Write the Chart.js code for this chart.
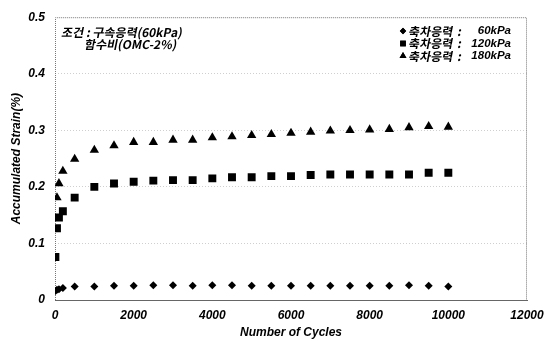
<!DOCTYPE html>
<html>
<head>
<meta charset="utf-8">
<script src="https://cdn.jsdelivr.net/npm/chart.js@4/dist/chart.umd.min.js"></script>
<style>
  html, body { margin: 0; background: #fff; }
</style>
</head>
<body>
<canvas id="chart" width="554" height="341"></canvas>
<script>
// data: cycles vs accumulated strain (%)
const cycles60 = [10, 50, 100, 200, 500, 1000, 1500, 2000, 2500, 3000, 3500, 4000, 4500, 5000, 5500, 6000, 6500, 7000, 7500, 8000, 8500, 9000, 9500, 10000];
const strain60 = [0.016, 0.018, 0.019, 0.021, 0.024, 0.024, 0.025, 0.025, 0.026, 0.026, 0.025, 0.026, 0.026, 0.025, 0.025, 0.025, 0.025, 0.025, 0.025, 0.025, 0.025, 0.026, 0.025, 0.024];

const cycles120 = [10, 50, 100, 200, 500, 1000, 1500, 2000, 2500, 3000, 3500, 4000, 4500, 5000, 5500, 6000, 6500, 7000, 7500, 8000, 8500, 9000, 9500, 10000];
const strain120 = [0.076, 0.127, 0.146, 0.157, 0.181, 0.200, 0.206, 0.209, 0.211, 0.212, 0.212, 0.215, 0.217, 0.217, 0.219, 0.219, 0.221, 0.222, 0.222, 0.222, 0.222, 0.222, 0.225, 0.225];

const cycles180 = [50, 100, 200, 500, 1000, 1500, 2000, 2500, 3000, 3500, 4000, 4500, 5000, 5500, 6000, 6500, 7000, 7500, 8000, 8500, 9000, 9500, 10000];
const strain180 = [0.181, 0.206, 0.228, 0.249, 0.265, 0.273, 0.279, 0.279, 0.283, 0.283, 0.287, 0.289, 0.291, 0.293, 0.295, 0.297, 0.299, 0.300, 0.301, 0.302, 0.305, 0.307, 0.306];

const xTicks = ['0', '2000', '4000', '6000', '8000', '10000', '12000'];
const yTicks = ['0', '0.1', '0.2', '0.3', '0.4', '0.5'];

const seriesNames = ['60kPa', '120kPa', '180kPa'];
const seriesShapes = ['rectRot', 'rect', 'triangle'];
const seriesRadius = [4, 5.6, 5.4];
const noteLines = ['조건 : 구속응력(60kPa)', '함수비(OMC-2%)'];

const FONT = "'Liberation Sans', Arial, sans-serif";
const KFONT = "'Noto Sans CJK KR', sans-serif";

const toPoints = (xs, ys) => xs.map((x, i) => ({ x, y: ys[i] }));

const datasets = [
  toPoints(cycles60, strain60),
  toPoints(cycles120, strain120),
  toPoints(cycles180, strain180)
].map((data, i) => ({
  label: seriesNames[i],
  data,
  pointStyle: seriesShapes[i],
  pointRadius: seriesRadius[i],
  pointBackgroundColor: '#000',
  pointBorderColor: '#000',
  pointBorderWidth: 0,
  showLine: false
}));

// slanted text (the CJK font has no italic face)
function slantText(ctx, text, x, y) {
  ctx.save();
  ctx.translate(x, y);
  ctx.transform(1, 0, -0.2, 1, 0, 0);
  ctx.fillText(text, 0, 0);
  ctx.restore();
}

// dotted frame, notes and legend drawn on top of the plot
const decor = {
  id: 'decor',
  beforeDatasetsDraw(chart) {
    const { ctx, chartArea: a } = chart;
    ctx.save();
    ctx.strokeStyle = '#777';
    ctx.lineWidth = 1;
    ctx.setLineDash([1, 1]);
    ctx.beginPath();
    ctx.moveTo(a.left + 0.5, a.bottom);
    ctx.lineTo(a.left + 0.5, a.top + 0.5);
    ctx.lineTo(a.right - 0.5, a.top + 0.5);
    ctx.lineTo(a.right - 0.5, a.bottom);
    ctx.stroke();
    ctx.restore();
  },
  afterDraw(chart) {
    const { ctx } = chart;
    ctx.save();
    ctx.fillStyle = '#000';
    ctx.textBaseline = 'middle';
    ctx.textAlign = 'left';

    // test conditions
    ctx.font = `bold 12px ${KFONT}`;
    slantText(ctx, noteLines[0], 62, 32);
    slantText(ctx, noteLines[1], 85, 44);

    // legend
    const rows = [31, 43.5, 56];
    rows.forEach((y, i) => {
      const ds = chart.data.datasets[i];
      Chart.helpers.drawPoint(ctx, {
        pointStyle: ds.pointStyle,
        radius: i === 0 ? 3.2 : 4,
        borderWidth: 0
      }, 403, y);
      ctx.fill();
      ctx.font = `bold 12px ${KFONT}`;
      ctx.textAlign = 'left';
      slantText(ctx, '축차응력', 409, y);
      slantText(ctx, ':', 458, y);
      ctx.font = `italic bold 11.5px ${FONT}`;
      ctx.textAlign = 'right';
      ctx.fillText(seriesNames[i], 511, y);
    });
    ctx.restore();
  }
};

new Chart(document.getElementById('chart'), {
  type: 'scatter',
  data: { datasets },
  options: {
    responsive: false,
    animation: false,
    devicePixelRatio: 1,
    layout: { padding: { top: 16, right: 27, left: 0, bottom: 0 } },
    plugins: {
      legend: { display: false },
      tooltip: { enabled: false }
    },
    scales: {
      x: {
        type: 'linear',
        min: 0,
        max: 12000,
        afterBuildTicks: s => { s.ticks = xTicks.map(t => ({ value: Number(t) })); },
        afterFit: s => { s.height = 41; },
        ticks: {
          color: '#000',
          padding: 8,
          callback: (v, i) => xTicks[i],
          font: { family: FONT, size: 12, weight: 'bold', style: 'italic' }
        },
        grid: { display: false, drawTicks: false },
        border: { display: true, color: '#666', width: 1 },
        title: {
          display: true,
          text: 'Number of Cycles',
          color: '#000',
          padding: { top: 0, bottom: 1 },
          font: { family: FONT, size: 12, weight: 'bold', style: 'italic' }
        }
      },
      y: {
        min: 0,
        max: 0.5,
        afterBuildTicks: s => { s.ticks = yTicks.map(t => ({ value: Number(t) })); },
        afterFit: s => { s.width = 55; },
        ticks: {
          color: '#000',
          padding: 10,
          callback: (v, i) => yTicks[i],
          font: { family: FONT, size: 12, weight: 'bold', style: 'italic' }
        },
        grid: {
          drawTicks: false,
          color: ctx => (ctx.index === 0 || ctx.index === yTicks.length - 1) ? 'rgba(0,0,0,0)' : '#cfcfcf'
        },
        border: { display: false, dash: [1, 2] },
        title: {
          display: true,
          text: 'Accumulated Strain(%)',
          color: '#000',
          padding: { top: 9, bottom: 0 },
          font: { family: FONT, size: 12, weight: 'bold', style: 'italic' }
        }
      }
    }
  },
  plugins: [decor]
});
</script>
</body>
</html>
